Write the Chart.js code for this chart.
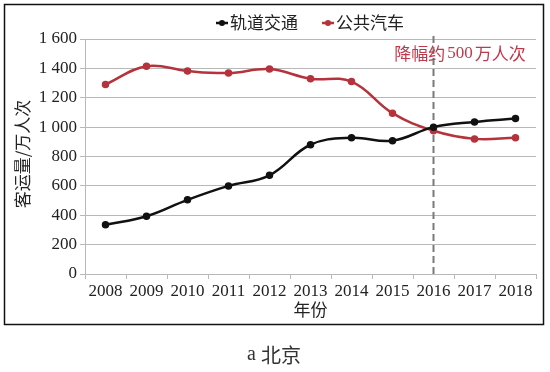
<!DOCTYPE html>
<html lang="zh">

<head>
    <meta charset="UTF-8">
    <title>北京 客运量</title>
    <script src="https://cdn.jsdelivr.net/npm/chart.js"></script>
    <style>
        html, body { margin: 0; padding: 0; background: #fff; }
        #grafico { display: block; }
    </style>
</head>

<body>
    <canvas id="grafico" width="550" height="372"></canvas>
</body>

</html>
<script>
    // dados
    var anos = ['2008', '2009', '2010', '2011', '2012', '2013', '2014', '2015', '2016', '2017', '2018'];
    var trilhos = [335, 393, 505, 600, 672, 880, 928, 908, 1000, 1035, 1058];
    var onibus = [1290, 1415, 1382, 1368, 1395, 1330, 1310, 1095, 975, 920, 928];
    var nomesSeries = ['轨道交通', '公共汽车'];
    var ticksY = [0, 200, 400, 600, 800, 1000, 1200, 1400, 1600];
    var anoMarcado = '2016';

    var fonteSerif = '"Liberation Serif", "DejaVu Serif", serif';
    var fonteCJK = '"Noto Sans CJK SC", "Noto Sans", sans-serif';
    var corPreta = '#111111';
    var corVermelha = '#b5333c';

    // escreve texto com partes em fontes diferentes (centralizado em x)
    function textoMisto(ctx, partes, x, y, tamanho, cor, espaco) {
        ctx.fillStyle = cor;
        ctx.textBaseline = 'middle';
        ctx.textAlign = 'left';
        var total = 0;
        partes.forEach(function (p) {
            ctx.font = tamanho + 'px ' + (p[1] ? fonteSerif : fonteCJK);
            total += ctx.measureText(p[0]).width;
        });
        total += espaco * (partes.length - 1);
        var cx = x - total / 2;
        partes.forEach(function (p) {
            ctx.font = tamanho + 'px ' + (p[1] ? fonteSerif : fonteCJK);
            ctx.fillText(p[0], cx, y);
            cx += ctx.measureText(p[0]).width + espaco;
        });
    }

    var extras = {
        id: 'extras',
        beforeDatasetsDraw: function (chart) {
            var ctx = chart.ctx;
            var x = chart.scales.x.getPixelForValue(anos.indexOf(anoMarcado));
            ctx.save();
            ctx.strokeStyle = '#7a7a7a';
            ctx.lineWidth = 2;
            ctx.setLineDash([7, 4]);
            ctx.beginPath();
            ctx.moveTo(x, chart.chartArea.top - 3);
            ctx.lineTo(x, chart.chartArea.bottom);
            ctx.stroke();
            ctx.restore();
        },
        afterDraw: function (chart) {
            var ctx = chart.ctx;
            var area = chart.chartArea;
            ctx.save();

            // moldura
            ctx.strokeStyle = '#111';
            ctx.lineWidth = 1.5;
            ctx.strokeRect(4.5, 4.5, 539, 320);

            // legenda
            var itens = [
                { x: 216, cor: corPreta, nome: nomesSeries[0] },
                { x: 322, cor: corVermelha, nome: nomesSeries[1] }
            ];
            itens.forEach(function (it) {
                ctx.strokeStyle = it.cor;
                ctx.fillStyle = it.cor;
                ctx.lineWidth = 2.5;
                ctx.beginPath();
                ctx.moveTo(it.x, 23);
                ctx.lineTo(it.x + 12, 23);
                ctx.stroke();
                ctx.beginPath();
                ctx.arc(it.x + 6, 23, 3, 0, Math.PI * 2);
                ctx.fill();
                ctx.fillStyle = '#222';
                ctx.font = '17px ' + fonteCJK;
                ctx.textAlign = 'left';
                ctx.textBaseline = 'middle';
                ctx.fillText(it.nome, it.x + 14, 23);
            });

            // anotação
            textoMisto(ctx, [['降幅约', false], ['500', true], ['万人次', false]], 460, 54, 17, '#c0394a', 2);

            // título eixo x
            ctx.fillStyle = '#222';
            ctx.font = '17px ' + fonteCJK;
            ctx.textAlign = 'center';
            ctx.textBaseline = 'middle';
            ctx.fillText('年份', (area.left + area.right) / 2, 310);

            // título eixo y
            ctx.save();
            ctx.translate(23, 154);
            ctx.rotate(-Math.PI / 2);
            ctx.fillText('客运量/万人次', 0, 0);
            ctx.restore();

            // legenda da figura
            textoMisto(ctx, [['a ', true], ['北京', false]], 274, 355, 20, '#333', 0);

            ctx.restore();
        }
    };

    var grafico = new Chart(document.getElementById('grafico').getContext('2d'), {
        type: 'line',
        data: {
            labels: anos,
            datasets: [{
                label: nomesSeries[0],
                data: trilhos,
                borderColor: corPreta,
                backgroundColor: corPreta,
                borderWidth: 2.5,
                pointRadius: 2.5,
                tension: 0.4
            }, {
                label: nomesSeries[1],
                data: onibus,
                borderColor: corVermelha,
                backgroundColor: corVermelha,
                borderWidth: 2.5,
                pointRadius: 2.5,
                tension: 0.4
            }]
        },
        options: {
            responsive: false,
            animation: false,
            layout: { padding: { left: 0, top: 39, right: 14, bottom: 0 } },
            plugins: {
                legend: { display: false },
                tooltip: { enabled: false }
            },
            scales: {
                x: {
                    offset: true,
                    grid: { drawOnChartArea: false, tickLength: 5, color: '#b8b8b8', offset: true },
                    border: { color: '#b8b8b8' },
                    ticks: { font: { family: fonteSerif, size: 17 }, color: '#222', padding: 2, maxRotation: 0, autoSkip: false },
                    afterFit: function (scale) { scale.height = 98; }
                },
                y: {
                    min: ticksY[0],
                    max: ticksY[ticksY.length - 1],
                    afterBuildTicks: function (scale) {
                        scale.ticks = ticksY.map(function (v) { return { value: v }; });
                    },
                    grid: { color: '#b8b8b8', tickLength: 5 },
                    border: { color: '#b8b8b8' },
                    ticks: {
                        font: { family: fonteSerif, size: 17 },
                        color: '#222',
                        padding: 3,
                        callback: function (v) {
                            return v >= 1000 ? Math.floor(v / 1000) + ' ' + String(v % 1000).padStart(3, '0') : String(v);
                        }
                    },
                    afterFit: function (scale) { scale.width = 85; }
                }
            }
        },
        plugins: [extras]
    });
</script>
